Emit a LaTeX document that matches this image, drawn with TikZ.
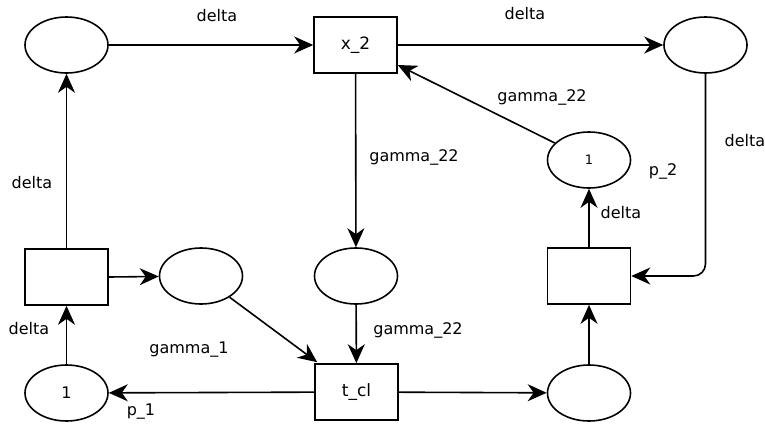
\documentclass[tikz,border=0pt]{standalone}
\usepackage{fontspec}
\setmainfont{DejaVu Sans}
\usetikzlibrary{shapes.geometric,arrows.meta}
\begin{document}
\begin{tikzpicture}[x=1pt,y=-1pt,
  place/.style={ellipse,draw,line width=1.6pt,minimum width=83pt,minimum height=56pt,inner sep=0pt,font=\fontsize{16}{19}\selectfont},
  trans/.style={rectangle,draw,line width=1.6pt,minimum width=83pt,minimum height=56pt,inner sep=0pt,font=\fontsize{17}{20}\selectfont},
  arc/.style={line width=1.6pt,-{Stealth[length=19pt,width=17pt,inset=6pt]}},
  lbl/.style={font=\fontsize{16}{19}\selectfont,inner sep=0pt}]
\useasboundingbox (0,0) rectangle (765,423);
% places
\node[place] (tl) at (66.5,45) {};
\node[place] (tr) at (705.5,45) {};
\node[place] (p2) at (589,160) {\fontsize{13}{15}\selectfont 1};
\node[place] (ml) at (201,276) {};
\node[place] (md) at (356,276) {};
\node[place] (p1) at (66.5,393) {1};
\node[place] (br) at (589,393) {};
% transitions
\node[trans] (x2) at (355.5,45) {x\_2};
\node[trans] (lb) at (66.5,277) {};
\node[trans] (rb) at (589,276) {};
\node[trans] (tcl) at (356.5,392) {t\_cl};
% arcs
\draw[arc] (tl) -- (x2);
\draw[arc] (x2) -- (tr);
\draw[arc,rounded corners=12pt] (tr.south) |- (rb.east);
\draw[arc] (p2) -- ([yshift=-20pt]x2.east);
\draw[arc] (x2) -- (md);
\draw[arc] (rb) -- (p2);
\draw[arc] (lb) -- (tl);
\draw[arc] (lb.east) -- (ml);
\draw[arc] (ml) -- ([xshift=3pt,yshift=1pt]tcl.north west);
\draw[arc] (md) -- (tcl);
\draw[arc] (tcl) -- (p1);
\draw[arc] (tcl) -- (br);
\draw[arc] (br) -- (rb);
\draw[arc] (p1) -- (lb);
% labels
\node[lbl] (l1) at (217,16) {delta};
\node[lbl] (l2) at (525,14) {delta};
\node[lbl] (l3) at (542,97) {gamma\_22};
\node[lbl] (l4) at (414,157) {gamma\_22};
\node[lbl] (l5) at (745,141) {delta};
\node[lbl] (l6) at (663,171) {p\_2};
\node[lbl] (l7) at (621,213) {delta};
\node[lbl] (l8) at (32,183) {delta};
\node[lbl] (l9) at (29,329) {delta};
\node[lbl] (l10) at (189,350) {gamma\_1};
\node[lbl] (l11) at (418,330) {gamma\_22};
\node[lbl] (l12) at (141,412) {p\_1};
\end{tikzpicture}
\end{document}
